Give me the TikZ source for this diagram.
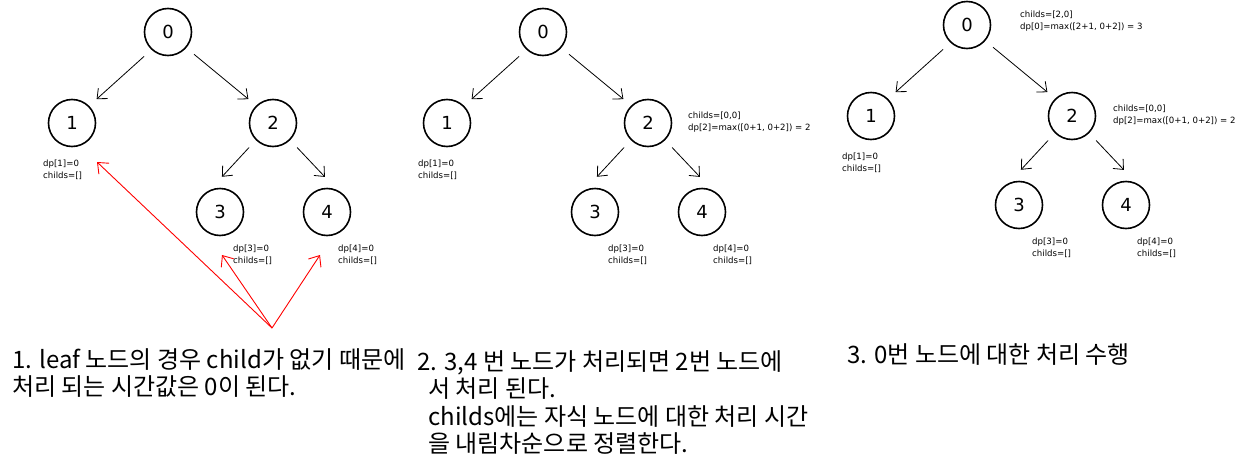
\documentclass[tikz,border=0pt]{standalone}
\usepackage{fontspec}
\newfontfamily\krfont{Noto Sans CJK KR}
\newfontfamily\labelfont{DejaVu Sans}
\usetikzlibrary{arrows.meta}

\begin{document}
\begin{tikzpicture}[
    x=1pt, y=-1pt,
    treenode/.style={circle, draw=black, line width=1.6pt, minimum size=47pt, inner sep=0pt,
                     font=\labelfont\fontsize{18}{20}\selectfont},
    info/.style={anchor=north west, inner sep=0pt, align=left,
                 font=\labelfont\fontsize{8.6}{12}\selectfont},
    note/.style={anchor=north west, inner sep=0pt, align=left,
                 font=\krfont\fontsize{24}{27.5}\selectfont},
    arr/.style={-{Straight Barb[length=8pt, width=14pt]}, line width=0.8pt,
                shorten <=10pt, shorten >=10pt},
    redarr/.style={-{Straight Barb[length=9pt, width=15pt]}, draw=red, line width=0.9pt}
]

\path[use as bounding box, fill=white] (0,0) rectangle (1260,466);

%% ===== PANEL 1: leaves =====
\node[treenode] (a0) at (168,32)  {0};
\node[treenode] (a1) at (72,123)  {1};
\node[treenode] (a2) at (273,123) {2};
\node[treenode] (a3) at (220,212) {3};
\node[treenode] (a4) at (327,212) {4};

\draw[arr] (a0.227) -- (a1.45);
\draw[arr] (a0.319) -- (a2.134);
\draw[arr, shorten >=18pt] (a2.225) -- (a3.115);
\draw[arr, shorten >=18pt] (a2.315) -- (a4.65);

\node[info] (ia1) at (43,160)  {dp[1]=0\\childs=[]};
\node[info] (ia3) at (233,245) {dp[3]=0\\childs=[]};
\node[info] (ia4) at (338,245) {dp[4]=0\\childs=[]};

%% red pointers to the leaf values
\coordinate (apex) at (272,328);
\coordinate (tip1) at (97,162);
\coordinate (tip3) at (222,255);
\coordinate (tip4) at (320,255);
\draw[redarr] (apex) -- (tip1);
\draw[redarr] (apex) -- (tip3);
\draw[redarr] (apex) -- (tip4);

\node[note] (note1) at (12,348) {1. leaf 노드의 경우 child가 없기 때문에\\처리 되는 시간값은 0이 된다.};

%% ===== PANEL 2: node 2 =====
\begin{scope}[shift={(375,0)}]
  \node[treenode] (b0) at (168,32)  {0};
  \node[treenode] (b1) at (72,123)  {1};
  \node[treenode] (b2) at (273,123) {2};
  \node[treenode] (b3) at (220,212) {3};
  \node[treenode] (b4) at (327,212) {4};

  \draw[arr] (b0.227) -- (b1.45);
  \draw[arr] (b0.319) -- (b2.134);
  \draw[arr, shorten >=18pt] (b2.225) -- (b3.115);
  \draw[arr, shorten >=18pt] (b2.315) -- (b4.65);

  \node[info] (ib1) at (43,160)  {dp[1]=0\\childs=[]};
  \node[info] (ib2) at (313,112) {childs=[0,0]\\dp[2]=max([0+1, 0+2]) = 2};
  \node[info] (ib3) at (233,245) {dp[3]=0\\childs=[]};
  \node[info] (ib4) at (338,245) {dp[4]=0\\childs=[]};

  \node[note] (note2) at (42,350) {2. 3,4 번 노드가 처리되면 2번 노드에\\
    \hspace*{11pt}서 처리 된다.\\
    \hspace*{11pt}childs에는 자식 노드에 대한 처리 시간\\
    \hspace*{11pt}을 내림차순으로 정렬한다.};
\end{scope}

%% ===== PANEL 3: root =====
\begin{scope}[shift={(799,-7)}]
  \node[treenode] (c0) at (168,32)  {0};
  \node[treenode] (c1) at (72,123)  {1};
  \node[treenode] (c2) at (273,123) {2};
  \node[treenode] (c3) at (220,212) {3};
  \node[treenode] (c4) at (327,212) {4};

  \draw[arr] (c0.227) -- (c1.45);
  \draw[arr] (c0.319) -- (c2.134);
  \draw[arr, shorten >=18pt] (c2.225) -- (c3.115);
  \draw[arr, shorten >=18pt] (c2.315) -- (c4.65);

  \node[info] (ic0) at (221,18)  {childs=[2,0]\\dp[0]=max([2+1, 0+2]) = 3};
  \node[info] (ic1) at (43,160)  {dp[1]=0\\childs=[]};
  \node[info] (ic2) at (314,112) {childs=[0,0]\\dp[2]=max([0+1, 0+2]) = 2};
  \node[info] (ic3) at (233,245) {dp[3]=0\\childs=[]};
  \node[info] (ic4) at (338,245) {dp[4]=0\\childs=[]};

  \node[note] (note3) at (48,350) {3. 0번 노드에 대한 처리 수행};
\end{scope}

\end{tikzpicture}
\end{document}
